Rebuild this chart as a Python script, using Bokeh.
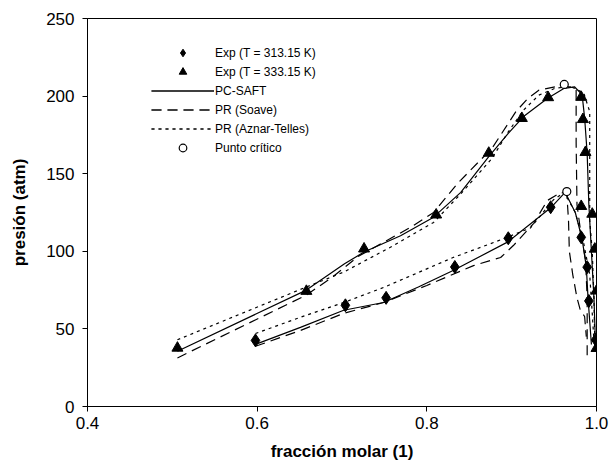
import numpy as np
from bokeh.plotting import figure
from bokeh.models import Legend, LegendItem, FixedTicker, Range1d, CustomJSTickFormatter
from bokeh.embed import file_html
from bokeh.resources import INLINE

# ---- experimental data ----
exp313_x = [0.598, 0.704, 0.752, 0.833, 0.896, 0.946, 0.982, 0.989, 0.991, 0.999]
exp313_y = [42.6, 65.2, 70.0, 89.9, 108.4, 128.4, 109.0, 89.8, 68.0, 43.0]

exp333_x = [0.506, 0.658, 0.726, 0.811, 0.873, 0.912, 0.943, 0.982, 0.984, 0.987,
            0.982, 0.995, 0.998, 1.000, 1.000]
exp333_y = [37.7, 74.3, 101.6, 123.5, 163.3, 185.7, 199.1, 199.3, 185.0, 163.8,
            129.0, 124.0, 101.5, 74.5, 37.5]

crit_x = [0.962, 0.965]
crit_y = [207.5, 138.5]

# ---- model curves, T = 333.15 K ----
saft333_x = [0.506, 0.658, 0.703, 0.726, 0.769, 0.808, 0.840, 0.873, 0.896, 0.914,
             0.942, 0.962, 0.974, 0.983, 0.986, 0.989, 0.991, 0.994, 0.997, 0.999]
saft333_y = [35.6, 75.0, 92.0, 99.5, 110.0, 122.0, 138.0, 161.0, 176.0, 186.8,
             198.5, 205.0, 206.0, 201.0, 186.0, 163.0, 130.0, 100.0, 70.0, 37.0]

soave333_x = [0.506, 0.658, 0.689, 0.720, 0.749, 0.781, 0.808, 0.836, 0.877, 0.905,
              0.919, 0.932, 0.951, 0.969, 0.976, 0.976, 0.977, 0.982, 0.987, 0.989, 0.989]
soave333_y = [31.3, 71.8, 83.5, 97.0, 105.8, 115.5, 125.0, 143.6, 166.5, 190.0,
              198.5, 203.8, 206.0, 206.0, 204.0, 170.0, 130.0, 110.0, 95.0, 70.0, 30.0]

aznar333_x = [0.506, 0.658, 0.702, 0.757, 0.808, 0.840, 0.877, 0.896, 0.914, 0.932,
              0.951, 0.969, 0.985, 0.992, 0.992, 0.995, 0.997, 0.998]
aznar333_y = [43.0, 77.0, 86.6, 102.6, 118.6, 137.0, 160.0, 177.0, 191.0, 200.6,
              205.0, 206.3, 202.0, 190.0, 120.0, 100.0, 70.0, 40.0]

# ---- model curves, T = 313.15 K ----
saft313_x = [0.598, 0.651, 0.702, 0.749, 0.790, 0.831, 0.895, 0.946, 0.963, 0.975,
             0.983, 0.988, 0.990, 0.992, 0.994]
saft313_y = [40.0, 51.0, 62.0, 67.0, 77.0, 87.6, 105.9, 128.0, 138.0, 125.0,
             108.0, 90.0, 70.0, 55.0, 40.0]

soave313_x = [0.598, 0.651, 0.702, 0.749, 0.800, 0.855, 0.887, 0.902, 0.926, 0.942,
              0.958, 0.965, 0.967, 0.968, 0.972, 0.977, 0.981, 0.986, 0.988]
soave313_y = [38.8, 49.0, 60.0, 67.0, 78.0, 90.8, 96.0, 103.7, 118.0, 132.7,
              138.0, 137.0, 120.0, 100.0, 85.0, 70.0, 62.0, 58.0, 45.0]

aznar313_x = [0.598, 0.651, 0.702, 0.749, 0.831, 0.879, 0.922, 0.949, 0.962, 0.975,
              0.985, 0.992, 0.995, 0.997]
aznar313_y = [47.0, 57.5, 67.0, 76.7, 96.0, 105.7, 115.0, 133.0, 138.0, 125.0,
              105.0, 85.0, 60.0, 42.0]

x_ticks = [0.4, 0.6, 0.8, 1.0]
y_ticks = [0, 50, 100, 150, 200, 250]

labels = ["Exp (T = 313.15 K)", "Exp (T = 333.15 K)", "PC-SAFT",
          "PR (Soave)", "PR (Aznar-Telles)", "Punto crítico"]

FONT = "Liberation Sans"

p = figure(width=611, height=470, output_backend="svg", toolbar_location=None,
           x_range=Range1d(0.4, 1.0), y_range=Range1d(0, 250),
           min_border_left=87, min_border_right=15, min_border_top=18,
           min_border_bottom=64, background_fill_color="white",
           border_fill_color="white")
p.grid.visible = False
p.outline_line_color = "black"
p.outline_line_width = 1

for ax in (p.xaxis[0], p.yaxis[0]):
    ax.major_tick_in = 0
    ax.major_tick_out = 5
    ax.minor_tick_line_color = None
    ax.axis_line_color = "black"
    ax.major_tick_line_color = "black"
    ax.major_label_text_font = FONT
    ax.major_label_text_font_size = "17px"
    ax.major_label_text_color = "black"
    ax.axis_label_text_font = FONT
    ax.axis_label_text_font_size = "17px"
    ax.axis_label_text_font_style = "bold"
    ax.axis_label_text_color = "black"

p.xaxis.ticker = FixedTicker(ticks=x_ticks)
p.yaxis.ticker = FixedTicker(ticks=y_ticks)
p.xaxis.formatter = CustomJSTickFormatter(code="return tick.toFixed(1);")
p.xaxis.axis_label = "fracción molar (1)"
p.yaxis.axis_label = "presión (atm)"
p.xaxis.major_label_standoff = 5
p.xaxis.axis_label_standoff = 10
p.yaxis.major_label_standoff = 8
p.yaxis.axis_label_standoff = 14

LW = 1.2
r_s1 = p.line(saft333_x, saft333_y, line_color="black", line_width=LW)
r_s2 = p.line(saft313_x, saft313_y, line_color="black", line_width=LW)
r_v1 = p.line(soave333_x, soave333_y, line_color="black", line_width=LW, line_dash="10 6")
r_v2 = p.line(soave313_x, soave313_y, line_color="black", line_width=LW, line_dash="10 6")
r_a1 = p.line(aznar333_x, aznar333_y, line_color="black", line_width=LW, line_dash="3 4")
r_a2 = p.line(aznar313_x, aznar313_y, line_color="black", line_width=LW, line_dash="3 4")

r_d = p.scatter(exp313_x, exp313_y, marker="diamond", size=13,
                fill_color="black", line_color="black")
r_t = p.scatter(exp333_x, exp333_y, marker="triangle", size=11,
                fill_color="black", line_color="black")
r_c = p.scatter(crit_x, crit_y, marker="circle", size=8,
                fill_color="white", line_color="black", line_width=1.2)

legend = Legend(items=[
    LegendItem(label=labels[0], renderers=[r_d]),
    LegendItem(label=labels[1], renderers=[r_t]),
    LegendItem(label=labels[2], renderers=[r_s1, r_s2]),
    LegendItem(label=labels[3], renderers=[r_v1, r_v2]),
    LegendItem(label=labels[4], renderers=[r_a1, r_a2]),
    LegendItem(label=labels[5], renderers=[r_c]),
], location=(64, 249), padding=0, margin=0, spacing=0,
    glyph_width=63, glyph_height=19, label_height=19, label_standoff=1,
    label_text_font=FONT, label_text_font_size="12px", label_text_color="black",
    border_line_color=None, background_fill_alpha=0)
p.add_layout(legend)

open("out.html", "w").write(file_html(p, INLINE))
